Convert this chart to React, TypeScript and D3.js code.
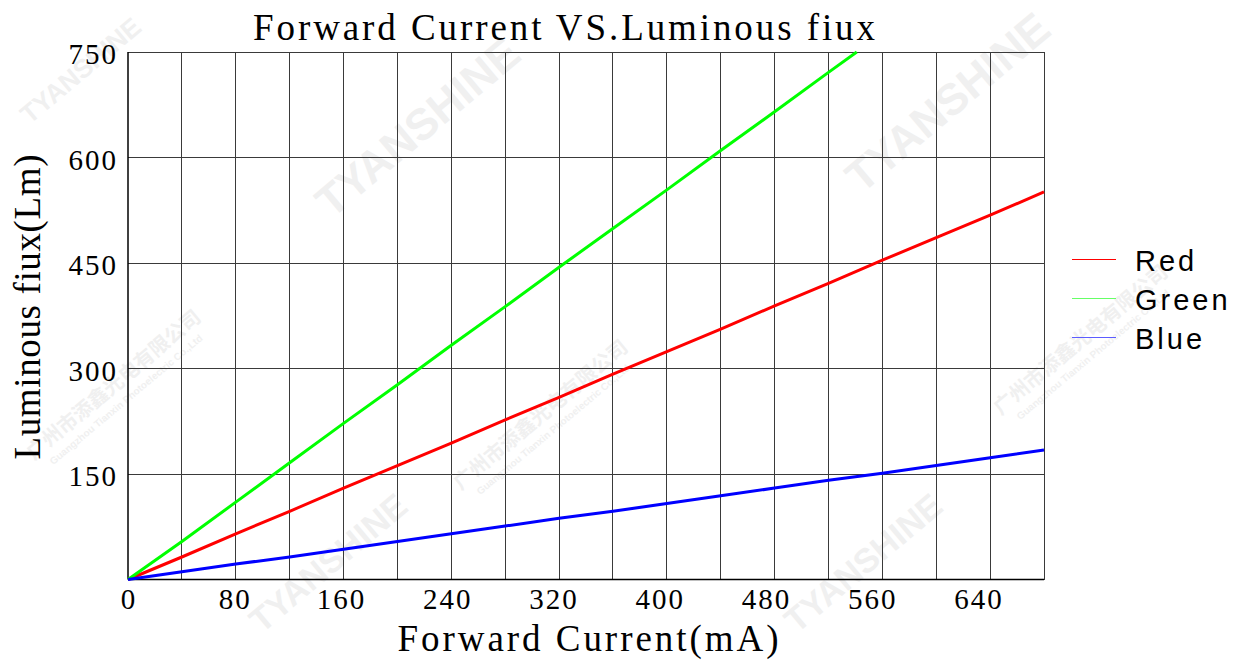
import React from "react";
import * as d3 from "d3";

// forward current (mA) sample points
const currentFull = [0, 40, 80, 120, 160, 200, 240, 280, 320, 360, 400, 440, 480, 520, 560, 600, 640, 680];
const currentGreen = [0, 40, 80, 120, 160, 200, 240, 280, 320, 360, 400, 440, 480, 520, 541];

// luminous flux (Lm)
const redFlux = [0, 32, 65, 97, 130, 162, 194, 227, 259, 292, 324, 356, 389, 421, 454, 486, 518, 551];
const greenFlux = [0, 54, 110, 166, 222, 277, 333, 388, 444, 499, 554, 610, 665, 721, 750];
const blueFlux = [0, 11, 22, 32, 43, 54, 65, 76, 87, 97, 108, 119, 130, 141, 151, 162, 173, 184];

const xTickLabels = [0, 80, 160, 240, 320, 400, 480, 560, 640];
const xGrid = [40, 80, 120, 160, 200, 240, 280, 320, 360, 400, 440, 480, 520, 560, 600, 640, 680];
const yTickLabels = [150, 300, 450, 600, 750];

const seriesNames = ["Red", "Green", "Blue"];
const lineColors = ["#ff0000", "#00ff00", "#0000ff"];
const legendColors = ["#ff0000", "#66ff66", "#5c5cff"];

// faint company watermarks
const watermarks = [
  { t: "TYANSHINE", x: 82, y: 72, s: 26 },
  { t: "TYANSHINE", x: 420, y: 130, s: 44 },
  { t: "TYANSHINE", x: 950, y: 105, s: 44 },
  { t: "TYANSHINE", x: 330, y: 565, s: 34 },
  { t: "TYANSHINE", x: 865, y: 565, s: 34 },
];
const cnMarks = [
  { x: 118, y: 390 },
  { x: 545, y: 420 },
  { x: 1085, y: 345 },
];

const W = 1242;
const H = 660;
const left = 128;
const right = 1044;
const top = 52;
const bottom = 579.5;

const serif = "'Liberation Serif', 'Times New Roman', serif";
const sans = "'Liberation Sans', Arial, sans-serif";

export default function App() {
  const x = d3.scaleLinear().domain([0, 680]).range([left, right]);
  const xLab = d3.scaleLinear().domain([0, 680]).range([129, 1032]);
  const y = d3.scaleLinear().domain([0, 750]).range([bottom, top]);

  const line = d3
    .line<[number, number]>()
    .x((d) => x(d[0]))
    .y((d) => y(d[1]));

  const series = [
    { name: "Red", pts: currentFull.map((c, i) => [c, redFlux[i]] as [number, number]) },
    { name: "Green", pts: currentGreen.map((c, i) => [c, greenFlux[i]] as [number, number]) },
    { name: "Blue", pts: currentFull.map((c, i) => [c, blueFlux[i]] as [number, number]) },
  ];

  return (
    <svg
      width={W}
      height={H}
      style={{ position: "absolute", left: 0, top: 0, background: "#fff" }}
    >
      <rect width={W} height={H} fill="#fff" />

      {/* watermarks */}
      <g fill="#f0f0f0" fontFamily={sans} fontWeight="bold">
        {watermarks.map((w, i) => (
          <text
            key={i}
            x={w.x}
            y={w.y}
            fontSize={w.s}
            textAnchor="middle"
            dominantBaseline="middle"
            transform={`rotate(-40 ${w.x} ${w.y})`}
          >
            {w.t}
          </text>
        ))}
        {cnMarks.map((m, i) => (
          <g key={i} transform={`translate(${m.x},${m.y}) rotate(-40)`}>
            <text fontSize={20} textAnchor="middle" fontFamily="'Noto Sans CJK SC', sans-serif">
              广州市添鑫光电有限公司
            </text>
            <text y={16} fontSize={10} textAnchor="middle">
              Guangzhou Tianxin Photoelectric Co.,Ltd
            </text>
          </g>
        ))}
      </g>

      {/* grid */}
      <g stroke="#3a3a3a" strokeWidth={1} shapeRendering="crispEdges">
        {xGrid.map((v) => (
          <line key={"gx" + v} x1={x(v)} x2={x(v)} y1={top} y2={bottom} />
        ))}
        {yTickLabels.map((v) => (
          <line key={"gy" + v} x1={left} x2={right} y1={y(v)} y2={y(v)} />
        ))}
      </g>
      <line x1={left} x2={left} y1={top} y2={bottom} stroke="#000" strokeWidth={1.5} />
      <line x1={left} x2={right} y1={bottom} y2={bottom} stroke="#000" strokeWidth={1.5} />

      {/* series */}
      {series.map((s, i) => (
        <path
          key={s.name}
          d={line(s.pts) || ""}
          fill="none"
          stroke={lineColors[i]}
          strokeWidth={3}
        />
      ))}

      {/* tick labels */}
      <g fontFamily={serif} fontSize={29} fill="#000" letterSpacing={2}>
        {yTickLabels.map((v) => (
          <text key={"yt" + v} x={118} y={y(v) + 12} textAnchor="end">
            {v}
          </text>
        ))}
        {xTickLabels.map((v) => (
          <text key={"xt" + v} x={xLab(v)} y={609} textAnchor="middle">
            {v}
          </text>
        ))}
      </g>

      {/* titles */}
      <text
        x={564}
        y={40}
        fontFamily={serif}
        fontSize={37}
        textAnchor="middle"
        textLength={622}
        lengthAdjust="spacing"
      >
        Forward Current VS.Luminous fiux
      </text>
      <text
        x={588}
        y={651}
        fontFamily={serif}
        fontSize={37}
        textAnchor="middle"
        textLength={381}
        lengthAdjust="spacing"
      >
        Forward Current(mA)
      </text>
      <text
        transform={`translate(40,307) rotate(-90)`}
        fontFamily={serif}
        fontSize={37}
        textAnchor="middle"
        textLength={305}
        lengthAdjust="spacing"
      >
        Luminous fiux(Lm)
      </text>

      {/* legend */}
      {seriesNames.map((n, i) => {
        const ly = 259.5 + i * 39;
        return (
          <g key={n}>
            <line x1={1072} x2={1116} y1={ly} y2={ly} stroke={legendColors[i]} strokeWidth={1.2} />
            <text
              x={1135}
              y={ly + 11}
              fontFamily={sans}
              fontSize={29}
              letterSpacing={3}
              fill="#000"
            >
              {n}
            </text>
          </g>
        );
      })}
    </svg>
  );
}
